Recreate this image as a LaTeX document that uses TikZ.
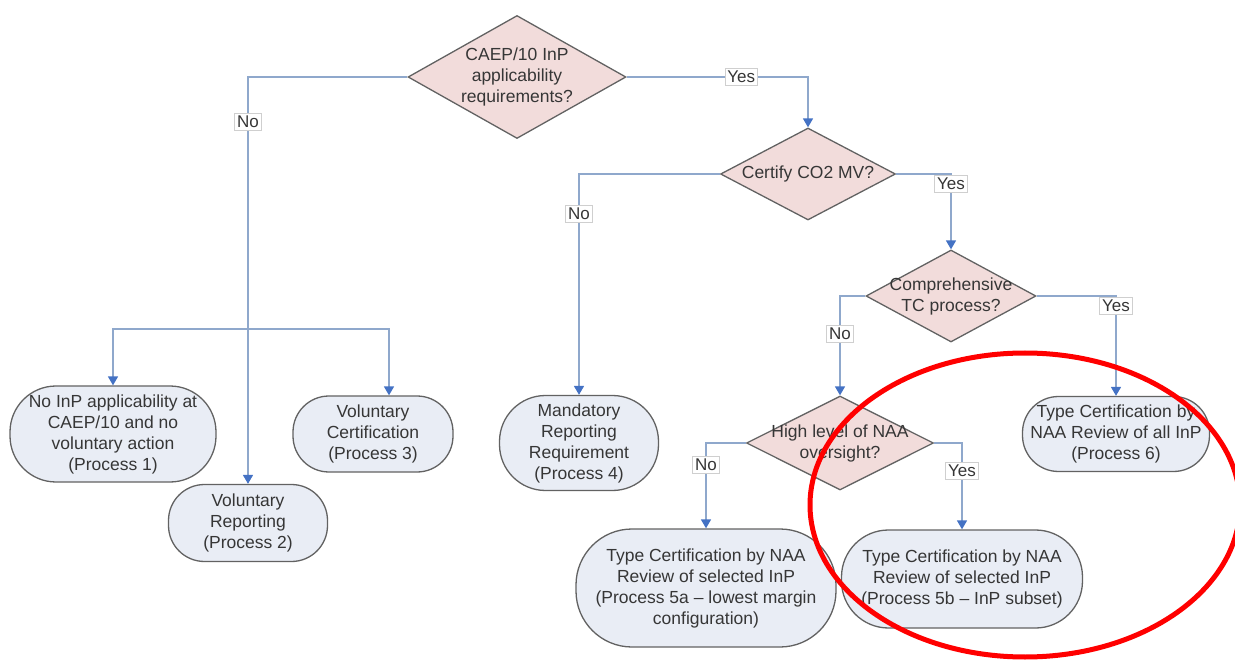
\documentclass[tikz,border=0pt]{standalone}
\usepackage{fontspec}
\setmainfont{Liberation Sans}
\usetikzlibrary{arrows.meta,shapes.geometric}
\definecolor{dfill}{HTML}{F2DCDB}
\definecolor{tfill}{HTML}{E9EDF5}
\definecolor{edgegray}{HTML}{626262}
\definecolor{linkblue}{HTML}{8FA8CC}
\definecolor{tipblue}{HTML}{4472C4}
\definecolor{boxgray}{HTML}{CFCFCF}
\definecolor{txtgray}{HTML}{363636}

\begin{document}
\begin{tikzpicture}[x=1pt,y=-1pt,
  every node/.style={font=\fontsize{17.5}{21}\selectfont,text=txtgray},
  decision/.style={diamond,draw=edgegray,fill=dfill,line width=1.3pt,inner sep=0pt},
  terminal/.style={rectangle,rounded corners=36pt,draw=edgegray,fill=tfill,line width=1.3pt,align=center,inner sep=0pt},
  flow/.style={draw=linkblue,line width=1.6pt,-{Triangle[width=10pt,length=9pt,color=tipblue]}},
  answer/.style={fill=white,draw=boxgray,line width=.6pt,inner sep=2.5pt,font=\fontsize{17}{19}\selectfont}]
\useasboundingbox (0,0) rectangle (1235,660);
\clip (0,0) rectangle (1235,660);
% decisions
\node[decision,minimum width=218,minimum height=123,label={[align=center]center:CAEP/10 InP\\applicability\\requirements?}] (caep) at (517,77) {};
\node[decision,minimum width=175,minimum height=92,label={center:Certify CO2 MV?}] (co2) at (808,174) {};
\node[decision,minimum width=170,minimum height=92,label={[align=center]center:Comprehensive\\TC process?}] (comp) at (951,296) {};
\node[decision,minimum width=187,minimum height=94,label={[align=center]center:High level of NAA\\oversight?}] (naa) at (840,443) {};
% processes
\node[terminal,rounded corners=46pt,minimum width=206,minimum height=96] (noinp) at (113,434) {No InP applicability at\\CAEP/10 and no\\voluntary action\\(Process 1)};
\node[terminal,minimum width=159,minimum height=77] (vrep) at (248,523) {Voluntary\\Reporting\\(Process 2)};
\node[terminal,minimum width=160,minimum height=76] (vcert) at (373,434) {Voluntary\\Certification\\(Process 3)};
\node[terminal,rounded corners=46pt,minimum width=159,minimum height=95] (mandrep) at (579,443) {Mandatory\\Reporting\\Requirement\\(Process 4)};
\node[terminal,rounded corners=56pt,minimum width=260,minimum height=118] (tcfivea) at (706,588) {Type Certification by NAA\\Review of selected InP\\(Process 5a -- lowest margin\\configuration)};
\node[terminal,rounded corners=47pt,minimum width=241,minimum height=98] (tcfiveb) at (962,579) {Type Certification by NAA\\Review of selected InP\\(Process 5b -- InP subset)};
\node[terminal,minimum width=187,minimum height=75] (tcsix) at (1116,434) {Type Certification by\\NAA Review of all InP\\(Process 6)};
% connectors
\coordinate (fork) at (248,329);
\draw[flow] (caep.west) -| node[answer,pos=.555] {No} (vrep.north);
\draw[flow] (fork) -| (noinp.north);
\draw[flow] (fork) -| ([xshift=16pt]vcert.north);
\draw[flow] (caep.east) -| node[answer,pos=.316] {Yes} (co2.north);
\draw[flow] (co2.west) -| node[answer,pos=.59] {No} (mandrep.north);
\draw[flow] (co2.east) -| node[answer,pos=.566] {Yes} (comp.north);
\draw[flow] (comp.west) -| node[answer,pos=.69] {No} (naa.north);
\draw[flow] (comp.east) -| node[answer,pos=.55] {Yes} (tcsix.north);
\draw[flow] (naa.west) -| node[answer,pos=.63] {No} (tcfivea.north);
\draw[flow] (naa.east) -| node[answer,pos=.66] {Yes} (tcfiveb.north);
% highlight
\draw[red,line width=5pt] (1025,505) ellipse [x radius=215,y radius=152];
\end{tikzpicture}
\end{document}
